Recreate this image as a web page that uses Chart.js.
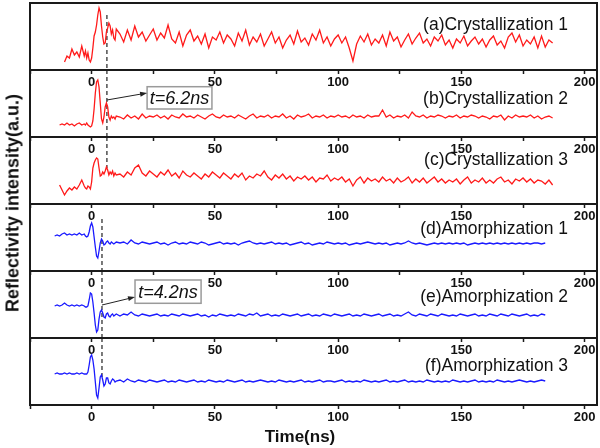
<!DOCTYPE html>
<html lang="en">
<head>
<meta charset="UTF-8">
<title>Reflectivity intensity vs time</title>
<script src="https://cdn.jsdelivr.net/npm/chart.js@4.4.0/dist/chart.umd.min.js"></script>
<style>
  body { margin: 0; background: #fff; }
  #wrap { position: relative; width: 600px; height: 448px; font-family: Arial, "Liberation Sans", sans-serif; }
  canvas { position: absolute; left: 0; }
  .ytitle { position: absolute; left: 13px; top: 203px; transform: translate(-50%, -50%) rotate(-90deg);
            white-space: nowrap; font-weight: bold; font-size: 18px; color: #111; }
  .xtitle { position: absolute; left: 300px; top: 437px; transform: translate(-50%, -50%);
            white-space: nowrap; font-weight: bold; font-size: 17px; color: #111; }
</style>
</head>
<body>
<div id="wrap">
  <canvas id="panelA" width="600" height="94" style="top:0px"></canvas>
  <canvas id="panelB" width="600" height="91" style="top:70px"></canvas>
  <canvas id="panelC" width="600" height="91" style="top:137px"></canvas>
  <canvas id="panelD" width="600" height="91" style="top:204px"></canvas>
  <canvas id="panelE" width="600" height="91" style="top:271px"></canvas>
  <canvas id="panelF" width="600" height="91" style="top:338px"></canvas>
  <div class="ytitle">Reflectivity intensity(a.u.)</div>
  <div class="xtitle">Time(ns)</div>
</div>

<script>
// time axis (ns)
const time = [
  -15,-14,-13,-12,-11,-10,-9,-8,-7,-6,-5,-4,-3,
  -2.5,-2,-1.5,-1,-0.5,0,0.5,1,1.5,2,2.5,3,3.5,4,4.5,5,5.5,6,6.5,7,7.5,8,8.5,9,9.5,10,
  11.5,13,14.5,16,17.5,19,20.5,22,23.5,25,
  26.5,28,29.5,31,32.5,34,35.5,37,38.5,40,
  41.5,43,44.5,46,47.5,49,50.5,52,53.5,55,
  56.5,58,59.5,61,62.5,64,65.5,67,68.5,70,
  71.5,73,74.5,76,77.5,79,80.5,82,83.5,85,
  86.5,88,89.5,91,92.5,94,95.5,97,98.5,100,
  101.5,103,104.5,106,107.5,109,110.5,112,113.5,115,
  116.5,118,119.5,121,122.5,124,125.5,127,128.5,130,
  131.5,133,134.5,136,137.5,139,140.5,142,143.5,145,
  146.5,148,149.5,151,152.5,154,155.5,157,158.5,160,
  161.5,163,164.5,166,167.5,169,170.5,172,173.5,175,
  176.5,178,179.5,181,182.5,184,185.5,187
];

// reflectivity, each trace in its own panel units (0..67)
const crystallization1 = [
  null,null,null,null,8,14,12,21,15,18,13,24,14,
  19,12,17,10,8,12,22,34,38,45,55,62,58,44,33,26,27,38,42,47,44,36,40,32,30,41,
  36,28,40,30,44,33,38,29,35,41,
  30,37,32,45,31,27,38,24,35,40,
  29,34,26,36,22,33,30,38,27,35,
  31,24,37,29,40,25,33,28,36,24,
  31,38,27,33,22,30,35,26,39,28,
  32,25,36,30,40,27,33,24,31,35,
  27,33,22,9,26,34,28,36,25,31,
  27,35,24,38,29,33,23,30,36,26,
  32,37,27,31,24,33,29,35,25,30,
  22,31,27,34,24,29,33,26,31,23,
  30,34,25,29,22,33,37,28,35,24,
  30,26,33,22,34,23,30,27
];
const crystallization2 = [
  null,null,12,13,12,14,12,13,11,13,14,12,13,
  12,14,12,11,10,11,16,28,44,55,57,50,34,18,14,20,30,34,30,20,17,21,19,20,18,21,
  20,18,22,19,21,18,23,19,21,20,
  22,19,21,18,22,20,19,23,20,21,
  19,22,20,18,21,23,20,19,22,20,
  21,19,22,20,18,21,23,19,21,20,
  22,19,21,20,23,19,21,18,22,20,
  21,23,19,21,20,22,19,21,20,22,
  20,21,19,22,20,21,19,22,20,21,
  21,27,20,22,19,21,20,22,19,25,
  21,20,22,19,21,20,22,21,19,21,
  20,22,19,21,20,22,21,19,21,20,
  18,21,20,22,17,21,19,22,20,21,
  20,22,19,21,18,20,21,19
];
const crystallization3 = [
  null,null,19,14,9,13,16,14,17,15,19,24,18,
  16,15,18,17,15,22,36,41,44,46,45,36,28,29,32,30,33,37,34,29,32,30,33,28,31,29,
  30,27,32,29,36,39,31,28,33,30,
  27,32,29,34,28,31,26,33,29,27,
  31,28,25,30,27,32,29,26,31,28,
  25,30,27,31,24,28,26,30,28,33,
  27,24,29,26,30,25,28,23,27,25,
  28,24,27,22,26,25,29,23,26,24,
  27,22,25,18,24,27,21,26,23,25,
  22,27,23,25,21,26,22,24,27,21,
  25,22,26,21,24,27,22,25,21,24,
  22,25,20,24,27,21,24,22,26,21,
  24,21,25,27,22,24,20,25,23,26,
  22,25,21,24,23,20,24,19
];
const amorphization1 = [
  35,36,35,37,38,36,37,36,37,36,38,36,37,
  35,34,35,39,45,48,44,34,24,15,13,20,28,32,30,26,27,29,30,28,27,29,28,27,28,29,
  28,29,27,31,28,27,29,28,27,28,
  29,27,28,26,28,29,27,28,27,29,
  28,27,29,28,26,27,28,29,27,28,
  27,28,26,28,29,30,28,27,28,27,
  28,29,27,28,27,28,26,27,28,29,
  27,28,26,27,28,27,29,28,27,28,
  27,28,26,27,28,27,28,29,28,27,
  28,27,28,26,27,28,27,28,30,28,
  27,28,27,26,27,28,27,28,27,28,
  27,28,27,28,26,27,28,27,28,27,
  28,27,28,27,28,27,28,27,28,27,
  28,27,28,28,27,28,null,null
];
const amorphization2 = [
  32,33,32,33,35,33,32,33,32,33,32,33,32,
  31,31,32,38,45,44,36,25,13,6,8,19,26,28,25,21,20,24,25,22,21,23,24,22,23,24,
  22,24,23,26,23,22,24,23,22,23,
  24,22,23,22,24,23,22,24,23,22,
  23,24,22,23,21,23,22,24,23,22,
  23,22,24,23,22,24,23,25,22,23,
  24,22,23,22,24,23,22,23,24,22,
  23,24,22,23,22,24,23,22,24,23,
  22,23,24,22,23,22,24,23,22,23,
  24,22,23,24,22,23,22,24,26,23,
  22,24,23,22,24,23,22,24,23,22,
  23,22,24,23,22,23,24,22,23,22,
  24,23,22,24,23,22,24,23,22,23,
  24,22,23,22,24,23,null,null
];
const amorphization3 = [
  31,32,31,31,32,31,32,31,31,32,31,32,31,
  31,31,33,40,48,50,45,36,23,10,7,17,28,30,25,19,21,27,27,22,21,24,26,25,23,24,
  25,23,26,24,23,25,24,23,25,24,
  23,24,25,23,24,23,25,24,23,24,
  25,23,24,23,25,24,23,24,23,25,
  24,23,24,25,23,24,23,24,25,24,
  23,24,23,25,24,23,24,23,24,25,
  23,24,23,24,25,23,24,24,23,24,
  25,23,24,23,24,23,25,24,23,24,
  23,24,25,23,24,23,24,25,23,24,
  23,24,23,25,24,23,24,23,24,23,
  25,24,23,24,23,24,25,23,24,23,
  24,23,25,24,23,24,23,24,25,24,
  23,24,23,24,25,24,null,null
];

// marker times of the dashed lines (ns)
const crystMarker = 6.2;
const amorMarker = 4.2;

const RED = '#ff1a1a';
const BLUE = '#1a1aff';

const panelDecor = {
  id: 'panelDecor',
  afterDatasetsDraw(chart, args, opts) {
    const { ctx, chartArea: a, scales: { x, y } } = chart;
    ctx.save();
    ctx.strokeStyle = '#1a1a1a';
    ctx.lineWidth = 2;
    ctx.strokeRect(a.left, a.top, a.right - a.left, a.bottom - a.top);

    ctx.fillStyle = '#111';
    ctx.font = '17.5px Arial, "Liberation Sans", sans-serif';
    ctx.textAlign = 'right';
    ctx.textBaseline = 'alphabetic';
    ctx.fillText(opts.label, 568, a.top + opts.labelDy);

    if (opts.note) {
      const n = opts.note;
      const bx0 = x.getPixelForValue(n.box[0]), by0 = y.getPixelForValue(n.box[1]);
      const bx1 = x.getPixelForValue(n.box[2]), by1 = y.getPixelForValue(n.box[3]);
      ctx.fillStyle = '#fff';
      ctx.fillRect(bx0, by0, bx1 - bx0, by1 - by0);
      ctx.strokeStyle = '#9a9a9a';
      ctx.lineWidth = 1.5;
      ctx.strokeRect(bx0, by0, bx1 - bx0, by1 - by0);
      ctx.fillStyle = '#111';
      ctx.font = 'italic 18px Arial, "Liberation Sans", sans-serif';
      ctx.textAlign = 'center';
      ctx.textBaseline = 'middle';
      ctx.fillText(n.text, (bx0 + bx1) / 2, (by0 + by1) / 2 + 1);

      const ax0 = x.getPixelForValue(n.arrow[0]), ay0 = y.getPixelForValue(n.arrow[1]);
      const ax1 = bx0, ay1 = y.getPixelForValue(n.arrow[3]);
      const ang = Math.atan2(ay1 - ay0, ax1 - ax0);
      ctx.strokeStyle = '#222';
      ctx.lineWidth = 1;
      ctx.beginPath();
      ctx.moveTo(ax0, ay0);
      ctx.lineTo(ax1 - 5 * Math.cos(ang), ay1 - 5 * Math.sin(ang));
      ctx.stroke();
      ctx.fillStyle = '#222';
      ctx.beginPath();
      ctx.moveTo(ax1, ay1);
      ctx.lineTo(ax1 - 7 * Math.cos(ang) + 2.5 * Math.sin(ang), ay1 - 7 * Math.sin(ang) - 2.5 * Math.cos(ang));
      ctx.lineTo(ax1 - 7 * Math.cos(ang) - 2.5 * Math.sin(ang), ay1 - 7 * Math.sin(ang) + 2.5 * Math.cos(ang));
      ctx.closePath();
      ctx.fill();
    }
    ctx.restore();
  }
};

function makePanel(id, values, color, label, labelDy, marker, dashRange, note, padTop) {
  return new Chart(id, {
    type: 'line',
    data: {
      datasets: [{
        data: time.map((t, i) => ({ x: t, y: values[i] })),
        borderColor: color,
        borderWidth: 1.3,
        pointRadius: 0,
        tension: 0,
        spanGaps: false
      }, {
        data: [{ x: marker, y: dashRange[0] }, { x: marker, y: dashRange[1] }],
        borderColor: '#222',
        borderWidth: 1.2,
        borderDash: [4, 3],
        pointRadius: 0
      }]
    },
    options: {
      responsive: false,
      animation: false,
      events: [],
      layout: { padding: { left: 30, right: 3, top: padTop || 0, bottom: 0 } },
      plugins: {
        legend: { display: false },
        tooltip: { enabled: false },
        panelDecor: { label: label, labelDy: labelDy, note: note }
      },
      scales: {
        x: {
          type: 'linear',
          min: -25,
          max: 205,
          afterFit: s => { s.height = 24; },
          border: { display: false },
          grid: { drawOnChartArea: false, tickLength: 4, color: '#1a1a1a', tickWidth: 1.5 },
          ticks: {
            stepSize: 25,
            includeBounds: false,
            autoSkip: false,
            maxRotation: 0,
            padding: 1,
            color: '#111',
            font: { family: 'Arial, "Liberation Sans", sans-serif', size: 13, weight: 'bold' },
            callback: v => (v % 50 === 0 && v >= 0) ? String(v) : ''
          }
        },
        y: { display: false, min: 0, max: 67 }
      }
    },
    plugins: [panelDecor]
  });
}

makePanel('panelA', crystallization1, RED, '(a)Crystallization 1', 27, crystMarker, [55, 0], null, 3);
makePanel('panelB', crystallization2, RED, '(b)Crystallization 2', 34, crystMarker, [67, 0],
  { text: 't=6.2ns', box: [22.5, 50.3, 48.8, 28], arrow: [crystMarker, 37, 22.5, 44] });
makePanel('panelC', crystallization3, RED, '(c)Crystallization 3', 28, crystMarker, [67, 36], null);
makePanel('panelD', amorphization1, BLUE, '(d)Amorphization 1', 30, amorMarker, [52, 0], null);
makePanel('panelE', amorphization2, BLUE, '(e)Amorphization 2', 31, amorMarker, [67, 0],
  { text: 't=4.2ns', box: [17.6, 58, 44.4, 34.7], arrow: [amorMarker, 33, 17.6, 41] });
makePanel('panelF', amorphization3, BLUE, '(f)Amorphization 3', 33, amorMarker, [67, 27], null);
</script>
</body>
</html>
